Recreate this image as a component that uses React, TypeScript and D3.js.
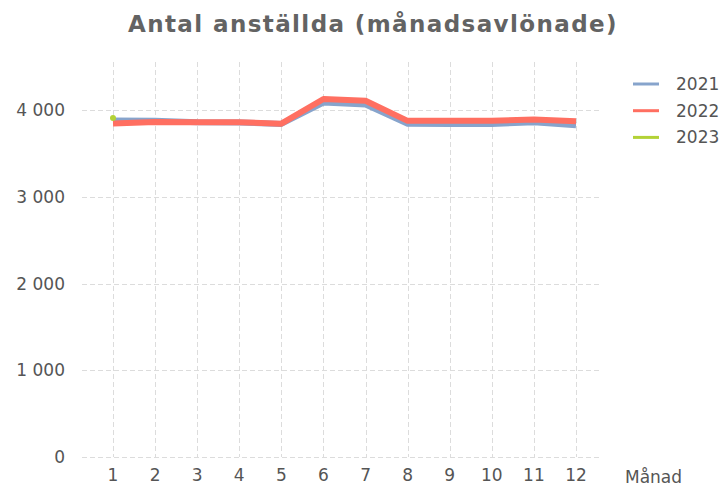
import React, { useRef, useEffect } from 'react';
import * as d3 from 'd3';

const months = [1, 2, 3, 4, 5, 6, 7, 8, 9, 10, 11, 12];
const values2021 = [3880, 3875, 3858, 3856, 3840, 4085, 4063, 3842, 3838, 3838, 3860, 3824];
const values2022 = [3845, 3862, 3860, 3858, 3842, 4127, 4107, 3875, 3875, 3875, 3890, 3871];
const values2023 = [3908];
const yTicks = [0, 1000, 2000, 3000, 4000];
const series = [
  { name: '2021', values: values2021, color: '#87a4cc' },
  { name: '2022', values: values2022, color: '#ff6f61' },
  { name: '2023', values: values2023, color: '#b3d236' },
];

const W = 724;
const H = 487;
const font = 'DejaVu Sans, sans-serif';
const textColor = '#555';

const App = () => {
  const ref = useRef<SVGSVGElement>(null);

  useEffect(() => {
    const svg = d3.select(ref.current);
    svg.selectAll('*').remove();

    const left = 82, right = 602, top = 62, bottom = 457;
    const x = d3.scaleLinear().domain([1, 12]).range([113, 576]);
    const y = d3.scaleLinear().domain([0, 4000]).range([bottom, 110]);

    // title
    svg.append('text')
      .attr('x', 128).attr('y', 32)
      .attr('font-family', font).attr('font-size', 23)
      .attr('font-weight', 'bold')
      .attr('letter-spacing', 1.4)
      .attr('fill', '#636363')
      .text('Antal anställda (månadsavlönade)');

    const grid = svg.append('g')
      .attr('stroke', '#dcdcdc').attr('stroke-dasharray', '5,3').attr('stroke-width', 1);
    grid.selectAll('line.h').data(yTicks).join('line')
      .attr('class', 'h')
      .attr('x1', left).attr('x2', right)
      .attr('y1', d => Math.round(y(d)) + 0.5).attr('y2', d => Math.round(y(d)) + 0.5);
    grid.selectAll('line.v').data(months).join('line')
      .attr('class', 'v')
      .attr('x1', d => Math.round(x(d)) + 0.5).attr('x2', d => Math.round(x(d)) + 0.5)
      .attr('y1', top).attr('y2', bottom);

    // y labels
    const fmt = (v: number) => d3.format(',')(v).replace(',', ' ');
    svg.append('g').selectAll('text').data(yTicks).join('text')
      .attr('x', 65).attr('y', d => y(d) + 6)
      .attr('text-anchor', 'end')
      .attr('font-family', font).attr('font-size', 17)
      .attr('fill', textColor)
      .text(d => fmt(d));

    // x labels
    svg.append('g').selectAll('text').data(months).join('text')
      .attr('x', d => x(d)).attr('y', 481)
      .attr('text-anchor', 'middle')
      .attr('font-family', font).attr('font-size', 17)
      .attr('fill', textColor)
      .text(d => d);

    svg.append('text')
      .attr('x', 625).attr('y', 483)
      .attr('font-family', font).attr('font-size', 17)
      .attr('fill', textColor)
      .text('Månad');

    const line = d3.line<number>()
      .x((_, i) => x(months[i]))
      .y(d => y(d));

    series.forEach(s => {
      if (s.values.length > 1) {
        svg.append('path')
          .datum(s.values)
          .attr('fill', 'none')
          .attr('stroke', s.color)
          .attr('stroke-width', 6)
          .attr('stroke-linejoin', 'round')
          .attr('d', line);
      } else {
        svg.append('circle')
          .attr('cx', x(months[0])).attr('cy', y(s.values[0]))
          .attr('r', 3)
          .attr('fill', s.color);
      }
    });

    // legend
    const legend = svg.append('g');
    series.forEach((s, i) => {
      const ly = 84 + i * 26.7;
      legend.append('line')
        .attr('x1', 633).attr('x2', 659)
        .attr('y1', ly).attr('y2', ly)
        .attr('stroke', s.color).attr('stroke-width', 3);
      legend.append('text')
        .attr('x', 676).attr('y', ly + 6)
        .attr('font-family', font).attr('font-size', 17)
        .attr('fill', textColor)
        .text(s.name);
    });
  }, []);

  return (
    <svg ref={ref} width={W} height={H}
      style={{ position: 'absolute', left: 0, top: 0, background: '#fff' }} />
  );
};

export default App;
